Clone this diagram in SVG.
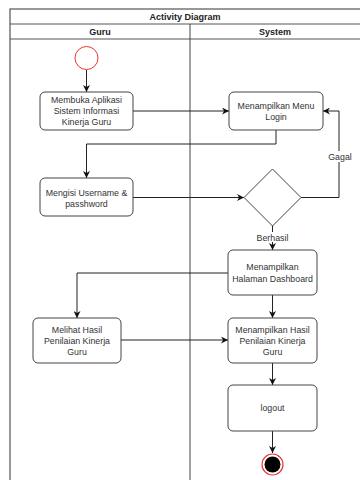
<svg xmlns="http://www.w3.org/2000/svg" width="360" height="480" viewBox="0 0 360 480">
<defs>
<style>
.lane{fill:none;stroke:#333;stroke-width:1}
.hdr{font-family:"Liberation Sans",Arial,sans-serif;font-size:9px;font-weight:bold;fill:#222;text-anchor:middle}
.box{fill:#fff;stroke:#444;stroke-width:1}
.t{font-family:"Liberation Sans",Arial,sans-serif;font-size:8.8px;fill:#333;text-anchor:middle}
.c{fill:none;stroke:#222;stroke-width:1}
</style>
<marker id="a" viewBox="0 0 10 10" refX="10" refY="5" markerWidth="7" markerHeight="7" orient="auto" markerUnits="userSpaceOnUse">
<path d="M0,0 L10,5 L0,10 L3,5 z" fill="#111"/>
</marker>
</defs>
<rect x="0" y="0" width="360" height="480" fill="#fff"/>
<g id="pool">
<rect class="lane" x="10" y="9" width="360" height="480"/>
<line x1="10" y1="24" x2="360" y2="24" stroke="#555"/>
<line x1="10" y1="39" x2="360" y2="39" stroke="#555"/>
<line x1="190" y1="24" x2="190" y2="480" stroke="#444"/>
<text class="hdr" x="185" y="19.5">Activity Diagram</text>
<text class="hdr" x="100" y="34.5">Guru</text>
<text class="hdr" x="275" y="34.5">System</text>
</g>
<g id="connectors">
<line class="c" x1="86.5" y1="70" x2="86.5" y2="92" marker-end="url(#a)"/>
<line class="c" x1="133" y1="111" x2="229" y2="111" marker-end="url(#a)"/>
<polyline class="c" points="276,130 276,144 86.5,144 86.5,178" marker-end="url(#a)"/>
<line class="c" x1="133" y1="197.5" x2="244" y2="197.5" marker-end="url(#a)"/>
<polyline class="c" points="301,197.5 339,197.5 339,111 323,111" marker-end="url(#a)"/>
<line class="c" x1="272.5" y1="226" x2="272.5" y2="250" marker-end="url(#a)"/>
<polyline class="c" points="228,273 77,273 77,318" marker-end="url(#a)"/>
<line class="c" x1="272.5" y1="295" x2="272.5" y2="318" marker-end="url(#a)"/>
<line class="c" x1="121" y1="340" x2="228" y2="340" marker-end="url(#a)"/>
<line class="c" x1="272.5" y1="363" x2="272.5" y2="385" marker-end="url(#a)"/>
<line class="c" x1="272.5" y1="431" x2="272.5" y2="453" marker-end="url(#a)"/>
<rect x="326" y="151" width="27" height="11" fill="#fff"/>
<text class="t" x="340" y="160">Gagal</text>
<rect x="255" y="232" width="35" height="10" fill="#fff"/>
<text class="t" x="272.5" y="240.5">Berhasil</text>
</g>
<g id="start">
<circle cx="86.5" cy="58" r="11.5" fill="#fff" stroke="#e33" stroke-width="1"/>
</g>
<g id="n1">
<rect class="box" x="40" y="92" width="93" height="38" rx="5"/>
<text class="t" x="86.5" y="102.5">Membuka Aplikasi</text>
<text class="t" x="86.5" y="113.5">Sistem Informasi</text>
<text class="t" x="86.5" y="124.5">Kinerja Guru</text>
</g>
<g id="n2">
<rect class="box" x="229" y="92" width="94" height="38" rx="5"/>
<text class="t" x="276" y="108.5">Menampilkan Menu</text>
<text class="t" x="276" y="119.5">Login</text>
</g>
<g id="n3">
<rect class="box" x="40" y="178" width="93" height="38" rx="5"/>
<text class="t" x="86.5" y="196">Mengisi Username &amp;</text>
<text class="t" x="86.5" y="207">passhword</text>
</g>
<g id="decision">
<polygon class="box" points="272.5,169 301,197.5 272.5,226 244,197.5"/>
</g>
<g id="n4">
<rect class="box" x="228" y="250" width="89" height="45" rx="5"/>
<text class="t" x="272.5" y="270">Menampilkan</text>
<text class="t" x="272.5" y="281.5">Halaman Dashboard</text>
</g>
<g id="n5">
<rect class="box" x="33" y="318" width="88" height="45" rx="5"/>
<text class="t" x="77" y="333">Melihat Hasil</text>
<text class="t" x="77" y="344">Penilaian Kinerja</text>
<text class="t" x="77" y="355">Guru</text>
</g>
<g id="n6">
<rect class="box" x="228" y="318" width="89" height="45" rx="5"/>
<text class="t" x="272.5" y="333">Menampilkan Hasil</text>
<text class="t" x="272.5" y="344">Penilaian Kinerja</text>
<text class="t" x="272.5" y="355">Guru</text>
</g>
<g id="n7">
<rect class="box" x="228" y="385" width="89" height="46" rx="5"/>
<text class="t" x="272.5" y="411">logout</text>
</g>
<g id="end">
<circle cx="272.5" cy="464.5" r="10.5" fill="#fff" stroke="#e33" stroke-width="1.2"/>
<circle cx="272.5" cy="464.5" r="8" fill="#000"/>
</g>
</svg>
